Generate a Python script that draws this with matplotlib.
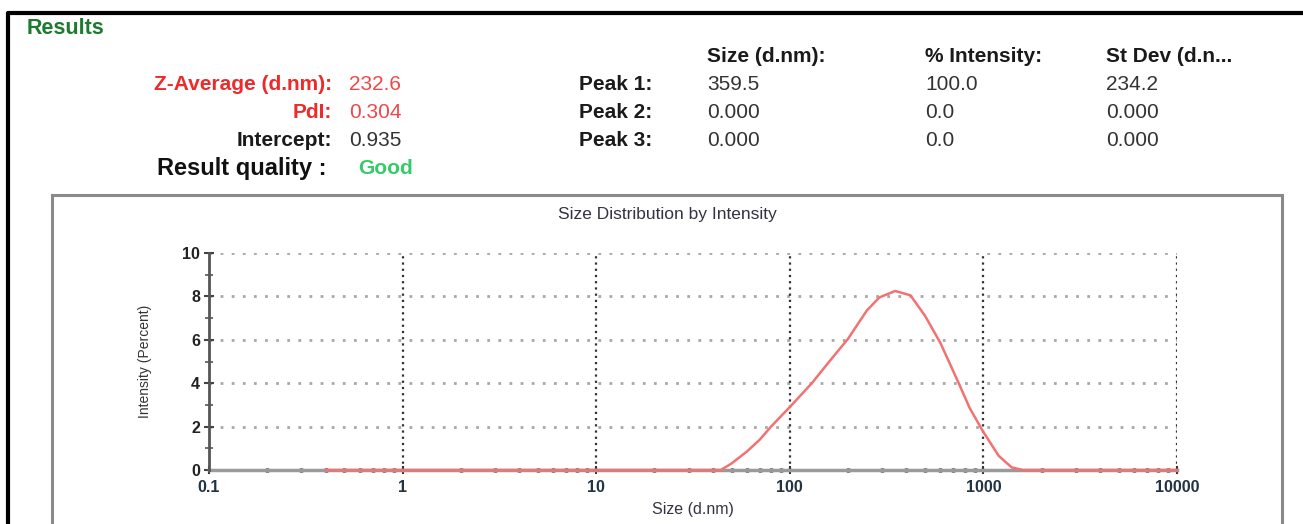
import matplotlib.pyplot as plt
import matplotlib.ticker as ticker
from matplotlib.lines import Line2D
from matplotlib.patches import Rectangle
import numpy as np

W, H = 1303, 524

# size distribution
sizes = [0.4, 0.5, 0.7, 1, 2, 5, 10, 20, 30, 40, 44, 50, 60, 70, 80, 100, 130,
         160, 200, 250, 290, 350, 420, 500, 600, 750, 850, 1000, 1200, 1400,
         1600, 2000, 5000, 10000]
intensity = [0, 0, 0, 0, 0, 0, 0, 0, 0, 0, 0.0, 0.3, 0.85, 1.4, 2.0, 2.9, 4.0,
             5.0, 6.05, 7.35, 7.95, 8.25, 8.05, 7.1, 5.85, 3.95, 2.85, 1.75,
             0.65, 0.12, 0.0, 0, 0, 0]

# summary table
left_labels = ['Z-Average (d.nm):', 'PdI:', 'Intercept:']
left_values = ['232.6', '0.304', '0.935']
left_colors = ['#ee2a2a', '#ee2a2a', '#1a1a1a']
value_colors = ['#f04848', '#f04848', '#333333']
peak_labels = ['Peak 1:', 'Peak 2:', 'Peak 3:']
col_headers = ['Size (d.nm):', '% Intensity:', 'St Dev (d.n...']
peak_size = ['359.5', '0.000', '0.000']
peak_int = ['100.0', '0.0', '0.0']
peak_sd = ['234.2', '0.000', '0.000']

plt.rcParams['font.family'] = ['Liberation Sans', 'DejaVu Sans']


def fx(px):
    return px / W


def fy(py):
    return 1 - py / H


fig = plt.figure(figsize=(W / 100, H / 100), dpi=100)

# outer black frame (top and left only)
fig.add_artist(Line2D([fx(8), fx(8), 1.01], [-0.01, fy(13), fy(13)],
                      color='black', lw=3, transform=fig.transFigure))
# grey panel around chart
fig.add_artist(Rectangle((fx(52), -0.05), fx(1282) - fx(52), fy(195) + 0.05,
                         fill=False, edgecolor='#8a8a8a', lw=2.2,
                         transform=fig.transFigure))

fig.text(fx(27), fy(28), 'Results', color='#1e7a2e', fontsize=15.5,
         fontweight='bold', va='center', ha='left')

FS = 15
rows_y = [85, 113, 141]
for i in range(3):
    fig.text(fx(332), fy(rows_y[i]), left_labels[i], color=left_colors[i],
             fontsize=FS, fontweight='bold', ha='right', va='center')
    fig.text(fx(349), fy(rows_y[i]), left_values[i], color=value_colors[i],
             fontsize=FS, ha='left', va='center')
    fig.text(fx(652), fy(rows_y[i]), peak_labels[i], color='#1a1a1a',
             fontsize=FS, fontweight='bold', ha='right', va='center')
    fig.text(fx(707), fy(rows_y[i]), peak_size[i], color='#333333',
             fontsize=FS, ha='left', va='center')
    fig.text(fx(925), fy(rows_y[i]), peak_int[i], color='#333333',
             fontsize=FS, ha='left', va='center')
    fig.text(fx(1106), fy(rows_y[i]), peak_sd[i], color='#333333',
             fontsize=FS, ha='left', va='center')

for xp, hd in zip([707, 925, 1106], col_headers):
    fig.text(fx(xp), fy(57), hd, color='#1a1a1a', fontsize=FS,
             fontweight='bold', ha='left', va='center')

fig.text(fx(327), fy(169), 'Result quality :', color='#111111', fontsize=17,
         fontweight='bold', ha='right', va='center')
fig.text(fx(358), fy(169), 'Good', color='#33cc66', fontsize=FS,
         fontweight='bold', ha='left', va='center')

fig.text(fx(667), fy(215), 'Size Distribution by Intensity', color='#333344',
         fontsize=12.5, ha='center', va='center')

# chart axes
ax = fig.add_axes([fx(209), fy(470), fx(1177) - fx(209), fy(253) - fy(470)])
ax.set_xscale('log')
ax.set_xlim(0.1, 10000)
ax.set_ylim(0, 10)

for y in [2, 4, 6, 8, 10]:
    ax.axhline(y, color='#a8a8a8', lw=2, ls=(0, (1, 3)), zorder=1)
for x in [1, 10, 100, 1000, 10000]:
    ax.axvline(x, color='#333333', lw=1.6, ls=(0, (1, 1.8)), zorder=1)

ax.plot(sizes, intensity, color='#f27272', lw=1.8, zorder=2.2, clip_on=False)

for s in ['top', 'right']:
    ax.spines[s].set_visible(False)
ax.spines['left'].set_color('#555555')
ax.spines['left'].set_linewidth(2)
ax.spines['bottom'].set_color('#9a9a9a')
ax.spines['bottom'].set_linewidth(2.5)
ax.spines['bottom'].set_zorder(2)

ax.set_xticks([0.1, 1, 10, 100, 1000, 10000])
ax.set_xticklabels(['0.1', '1', '10', '100', '1000', '10000'])
ax.xaxis.set_minor_locator(ticker.LogLocator(base=10, subs=np.arange(2, 10)))
ax.xaxis.set_minor_formatter(ticker.NullFormatter())
ax.set_yticks([0, 2, 4, 6, 8, 10])
ax.yaxis.set_minor_locator(ticker.MultipleLocator(1))

ax.tick_params(axis='x', which='major', direction='inout', length=6, width=1.5,
               color='#333333', labelsize=11.5, labelcolor='#223344', pad=4)
ax.tick_params(axis='x', which='minor', direction='inout', length=2.5,
               width=2.5, color='#111111')
ax.tick_params(axis='y', which='major', direction='inout', length=7, width=1.5,
               color='#444444', labelsize=11.5, labelcolor='#222222', pad=3)
ax.tick_params(axis='y', which='minor', direction='inout', length=6,
               width=1.2, color='#555555')
for lab in ax.get_xticklabels() + ax.get_yticklabels():
    lab.set_fontweight('bold')

ax.set_xlabel('Size (d.nm)', fontsize=11.5, color='#333344', labelpad=5)
ax.set_ylabel('Intensity (Percent)', fontsize=10, color='#333333',
              family=['Liberation Sans Narrow', 'Liberation Sans'],
              labelpad=22)

fig.savefig('out.png', dpi=100)
